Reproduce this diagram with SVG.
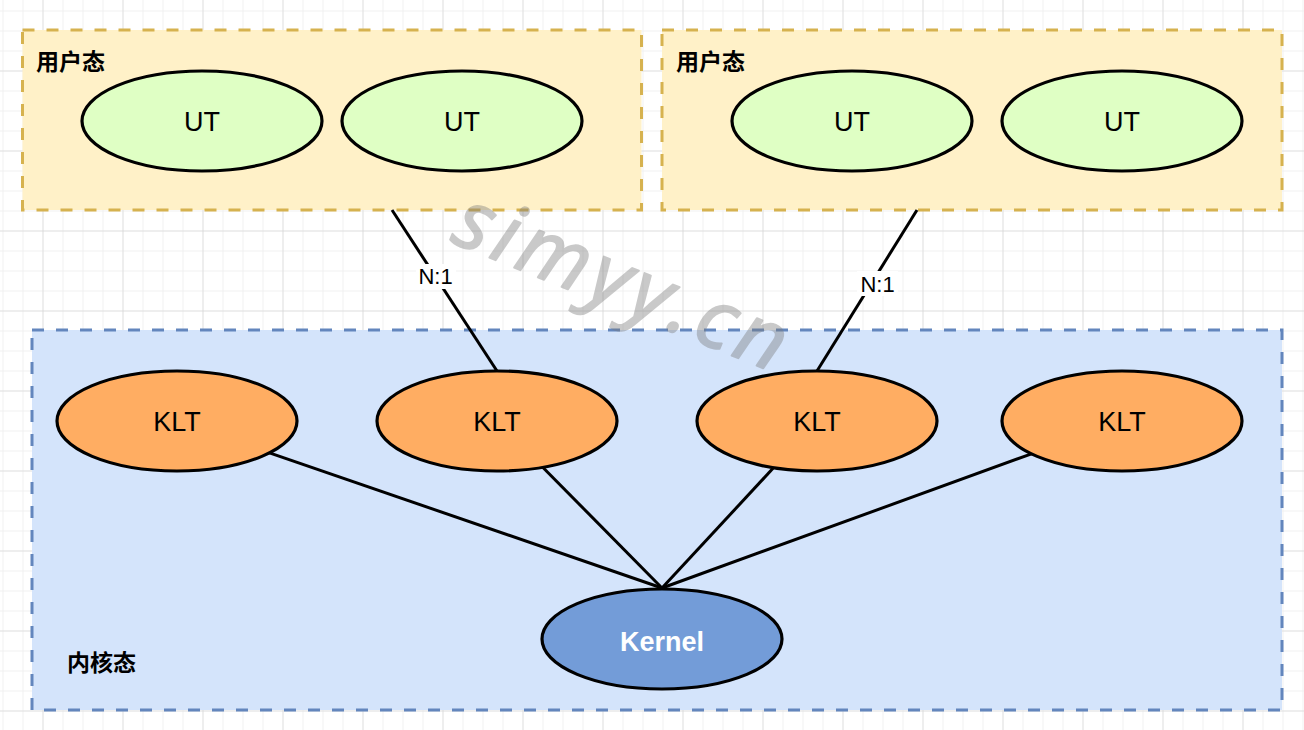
<svg xmlns="http://www.w3.org/2000/svg" width="1304" height="730" viewBox="0 0 1304 730">
<defs>
<pattern id="minor" x="2.5" y="10.5" width="20" height="20" patternUnits="userSpaceOnUse">
<path d="M0 0H20M0 0V20" fill="none" stroke="#f0f0f0" stroke-width="2"/>
</pattern>
<pattern id="major" x="42.5" y="70.5" width="80" height="80" patternUnits="userSpaceOnUse">
<path d="M0 0H80M0 0V80" fill="none" stroke="#cfcfcf" stroke-width="1"/>
</pattern>
</defs>
<style>
.ubox{fill:#fff1c8;stroke:#d6b24f;stroke-width:3;stroke-dasharray:12 12}
.kbox{fill:#d4e4fb;stroke:#6386bd;stroke-width:3;stroke-dasharray:12 12}
.ut{fill:#dfffc4;stroke:#000;stroke-width:3.2}
.klt{fill:#ffad62;stroke:#000;stroke-width:3.2}
.kern{fill:#739cd8;stroke:#000;stroke-width:3.2}
.lbl{font-family:"Liberation Sans",Arial,sans-serif;font-size:27px;fill:#000;text-anchor:middle}
.cn{font-family:"Noto Sans CJK SC","Liberation Sans",sans-serif;font-size:23px;font-weight:bold;fill:#000}
.edge{stroke:#000;stroke-width:3;fill:none}
.el{font-family:"Liberation Sans",Arial,sans-serif;font-size:22px;fill:#000;text-anchor:middle}
</style>
<rect width="1304" height="730" fill="#fff"/>
<rect width="1304" height="730" fill="url(#minor)"/>
<rect width="1304" height="730" fill="url(#major)"/>

<g id="user1">
<rect class="ubox" x="22.5" y="30" width="619" height="180"/>
<text class="cn" x="36" y="70">用户态</text>
</g>
<g id="user2">
<rect class="ubox" x="662" y="30" width="620" height="180"/>
<text class="cn" x="676" y="70">用户态</text>
</g>
<g id="kernelspace">
<rect class="kbox" x="32" y="330" width="1250" height="380"/>
<text class="cn" x="67" y="671">内核态</text>
</g>

<g id="connectors">
<line class="edge" x1="392" y1="210" x2="497" y2="371"/>
<line class="edge" x1="917" y1="210" x2="817" y2="371"/>
<line class="edge" x1="269.5" y1="452.8" x2="662" y2="588"/>
<line class="edge" x1="542.7" y1="467.2" x2="662" y2="588"/>
<line class="edge" x1="773.7" y1="467.6" x2="662" y2="588"/>
<line class="edge" x1="1031.5" y1="453.8" x2="662" y2="588"/>
<rect x="416" y="264" width="40" height="25" fill="#fff"/>
<text class="el" x="435.5" y="284">N:1</text>
<rect x="857" y="271" width="41" height="25" fill="#fff"/>
<text class="el" x="877.5" y="292">N:1</text>
</g>

<g id="ut1"><ellipse class="ut" cx="202" cy="121" rx="120" ry="50"/><text class="lbl" x="202" y="131">UT</text></g>
<g id="ut2"><ellipse class="ut" cx="462" cy="121" rx="120" ry="50"/><text class="lbl" x="462" y="131">UT</text></g>
<g id="ut3"><ellipse class="ut" cx="852" cy="121" rx="120" ry="50"/><text class="lbl" x="852" y="131">UT</text></g>
<g id="ut4"><ellipse class="ut" cx="1122" cy="121" rx="120" ry="50"/><text class="lbl" x="1122" y="131">UT</text></g>

<g id="klt1"><ellipse class="klt" cx="177" cy="421" rx="120" ry="50"/><text class="lbl" x="177" y="431">KLT</text></g>
<g id="klt2"><ellipse class="klt" cx="497" cy="421" rx="120" ry="50"/><text class="lbl" x="497" y="431">KLT</text></g>
<g id="klt3"><ellipse class="klt" cx="817" cy="421" rx="120" ry="50"/><text class="lbl" x="817" y="431">KLT</text></g>
<g id="klt4"><ellipse class="klt" cx="1122" cy="421" rx="120" ry="50"/><text class="lbl" x="1122" y="431">KLT</text></g>

<g id="kernel"><ellipse class="kern" cx="662" cy="639" rx="120" ry="50"/><text class="lbl" x="662" y="651" style="fill:#fff;font-weight:bold">Kernel</text></g>

<text transform="translate(614,308) rotate(22)" text-anchor="middle" font-family="'Open Sans','Liberation Sans',sans-serif" font-size="82" font-style="italic" letter-spacing="6" fill="#7a7a7a" stroke="#7a7a7a" stroke-width="2" stroke-linejoin="round" opacity="0.4">simyy.cn</text>
</svg>
